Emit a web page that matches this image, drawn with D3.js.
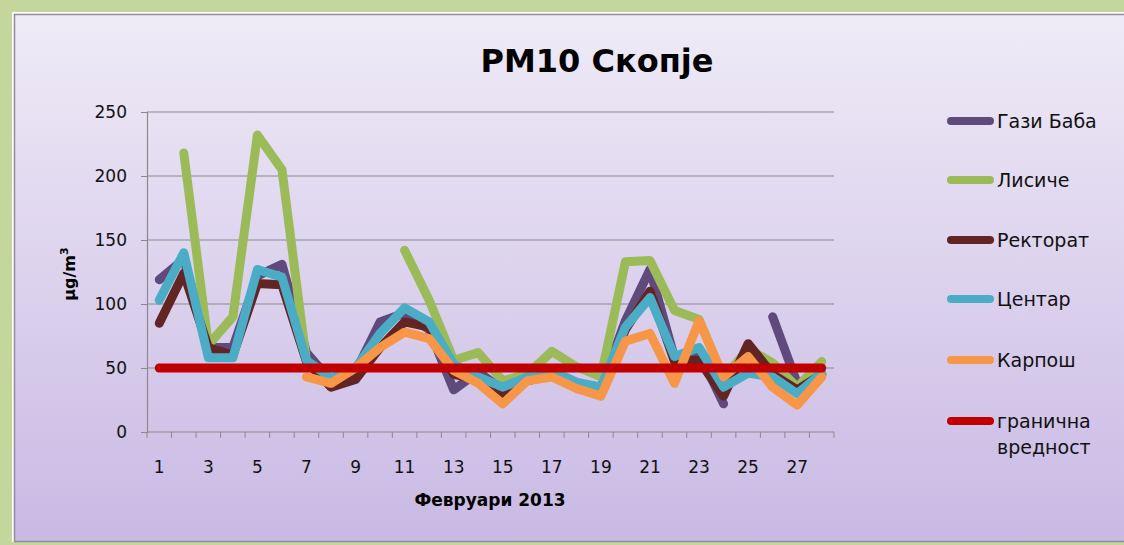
<!DOCTYPE html>
<html><head><meta charset="utf-8">
<script src="https://cdn.jsdelivr.net/npm/d3@7"></script>
<style>html,body{margin:0;padding:0;background:#c3d69b;}svg{display:block;}</style>
</head><body>
<svg id="chart" width="1124" height="545"></svg>
<script>
const days = d3.range(1, 29);
const yTicks = [0, 50, 100, 150, 200, 250];
const xTickLabels = [1,3,5,7,9,11,13,15,17,19,21,23,25,27];
const seriesNames = ["Гази Баба", "Лисиче", "Ректорат", "Центар", "Карпош", "гранична вредност"];
const gaziBaba = [119,135,66,66,122,131,62,40,47,86,93,80,33,47,33,42,46,38,35,87,127,58,62,22,null,90,38,45];
const lisice   = [null,218,68,90,232,205,55,null,null,null,142,103,56,62,40,45,63,51,43,133,134,95,88,42,65,54,35,55];
const rektorat = [85,124,66,60,116,115,55,35,41,66,86,82,45,41,30,40,45,37,32,80,110,55,56,28,69,45,33,45];
const centar   = [103,140,58,58,127,121,56,42,50,77,97,86,53,43,35,43,48,39,35,82,105,59,66,35,46,43,30,46];
const karpos   = [null,null,null,null,null,null,43,38,50,66,78,73,48,38,22,40,43,34,28,71,77,38,87,43,59,35,21,43];
const granicna = days.map(() => 50);
const colors = ["#604a7b", "#9bbb59", "#632523", "#4bacc6", "#f79646", "#c00000"];
const series = [gaziBaba, lisice, rektorat, centar, karpos, granicna];

const svg = d3.select("#chart");
const font = "'DejaVu Sans', sans-serif";

const defs = svg.append("defs");
const grad = defs.append("linearGradient").attr("id","bg").attr("x1",0).attr("y1",0).attr("x2",0).attr("y2",1);
grad.append("stop").attr("offset","0%").attr("stop-color","#efebf7");
grad.append("stop").attr("offset","100%").attr("stop-color","#c9b9e4");
svg.append("rect").attr("x",0).attr("y",0).attr("width",1124).attr("height",545).attr("fill","#c3d69b");
svg.append("rect").attr("x",12).attr("y",12).attr("width",1130).attr("height",530).attr("fill","#fff");
svg.append("rect").attr("x",14.5).attr("y",14.5).attr("width",1130).attr("height",527).attr("fill","url(#bg)").attr("stroke","#8c8c9c").attr("stroke-width",1.5);

const L = 147, R = 834, T = 112, B = 432;
const x = d3.scaleBand().domain(days).range([L, R]).padding(0);
const xc = d => x(d) + x.bandwidth() / 2;
const y = d3.scaleLinear().domain([0, 250]).range([B, T]);

svg.append("g").selectAll("line").data(yTicks.filter(v => v > 0)).join("line")
  .attr("x1", L).attr("x2", R).attr("y1", d => y(d)).attr("y2", d => y(d))
  .attr("stroke", "#8a8a8a").attr("stroke-width", 1.2);

const yAxis = svg.append("g").attr("transform", `translate(${L},0)`)
  .call(d3.axisLeft(y).tickValues(yTicks).tickSize(6).tickPadding(14));
yAxis.select(".domain").attr("stroke", "#8a8a8a").attr("stroke-width", 1.2);
yAxis.selectAll(".tick line").attr("stroke", "#8a8a8a");
yAxis.selectAll("text").attr("font-family", font).attr("font-size", 17).attr("fill", "#111");

const xg = svg.append("g");
xg.append("line").attr("x1", L).attr("x2", R).attr("y1", B).attr("y2", B).attr("stroke", "#8a8a8a").attr("stroke-width", 1.2);
xg.selectAll("line.t").data(days.concat([null])).join("line").attr("class","t")
  .attr("x1", d => d === null ? R : x(d)).attr("x2", d => d === null ? R : x(d))
  .attr("y1", B).attr("y2", B + 6).attr("stroke", "#8a8a8a");
xg.selectAll("text").data(xTickLabels).join("text")
  .attr("x", d => xc(d)).attr("y", 473).attr("text-anchor", "middle")
  .attr("font-family", font).attr("font-size", 17).attr("fill", "#111").text(d => d);

const line = d3.line().defined(d => d[1] !== null).x(d => xc(d[0])).y(d => y(d[1]));
svg.append("g").selectAll("path").data(series).join("path")
  .attr("d", s => line(days.map((d, i) => [d, s[i]])))
  .attr("fill", "none").attr("stroke", (s, i) => colors[i])
  .attr("stroke-width", 9).attr("stroke-linejoin", "round").attr("stroke-linecap", "round");

svg.append("text").attr("x", 597).attr("y", 72).attr("text-anchor", "middle")
  .attr("font-family", font).attr("font-weight", "bold").attr("font-size", 32).attr("fill", "#000")
  .text("PM10 Скопје");

svg.append("text").attr("x", 490).attr("y", 506).attr("text-anchor", "middle")
  .attr("font-family", font).attr("font-weight", "bold").attr("font-size", 17).attr("fill", "#000")
  .text("Февруари 2013");
const yt = svg.append("text").attr("transform", "translate(75,274) rotate(-90)").attr("text-anchor", "middle")
  .attr("font-family", font).attr("font-weight", "bold").attr("font-size", 16).attr("fill", "#000");
yt.append("tspan").text("µg/m");
yt.append("tspan").attr("dy", -7).attr("font-size", 11).text("3");

const legY = [121, 180, 240, 299, 360, 421];
const lg = svg.append("g");
seriesNames.forEach((n, i) => {
  lg.append("line").attr("x1", 951).attr("x2", 990).attr("y1", legY[i]).attr("y2", legY[i])
    .attr("stroke", colors[i]).attr("stroke-width", 8).attr("stroke-linecap", "round");
  const words = i === 5 ? ["гранична", "вредност"] : [n];
  words.forEach((w, j) => {
    lg.append("text").attr("x", 997).attr("y", legY[i] + 7 + j * 26)
      .attr("font-family", font).attr("font-size", 19).attr("fill", "#111").text(w);
  });
});
</script>
</body></html>
